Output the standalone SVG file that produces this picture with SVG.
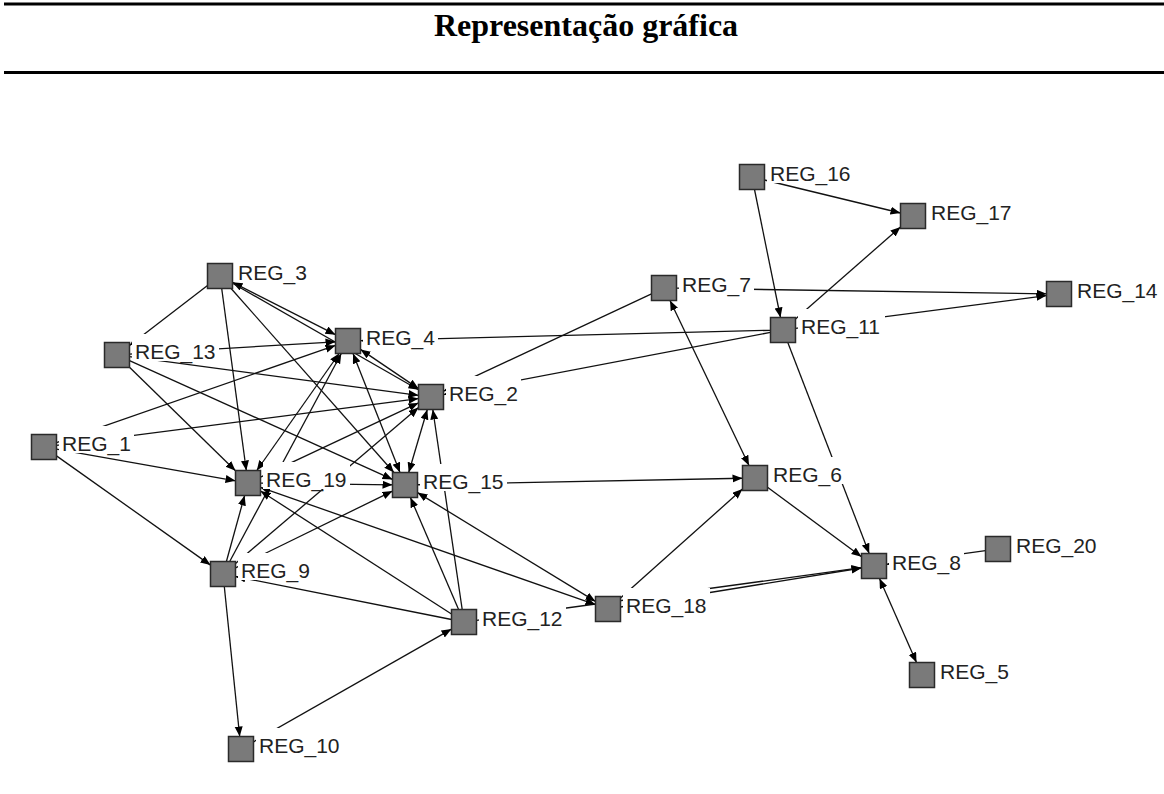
<svg xmlns="http://www.w3.org/2000/svg" width="1164" height="794" viewBox="0 0 1164 794">
<style>
.rule{stroke:#000;stroke-width:3}
.title{font-family:"Liberation Serif","Times New Roman",serif;font-weight:bold;font-size:32px;fill:#000}
#edges line{stroke:#111;stroke-width:1.3;fill:none}
#edges .e{marker-end:url(#ah)}
#edges .b{marker-end:url(#ah);marker-start:url(#ah)}
.node rect.box{fill:#7a7a7a;stroke:#2a2a2a;stroke-width:1.5}
.node rect.lb{fill:#fff}
.node text{font-family:"Liberation Sans",Arial,sans-serif;font-size:21px;fill:#222}
</style>
<defs>
<marker id="ah" markerUnits="userSpaceOnUse" markerWidth="11" markerHeight="9" refX="10" refY="4" orient="auto-start-reverse">
<path d="M0,0 L10,4 L0,8 z" fill="#000"/>
</marker>
</defs>
<rect x="0" y="0" width="1164" height="794" fill="#fff"/>
<line class="rule" x1="4" y1="4" x2="1164" y2="4"/>
<text class="title" x="586" y="36" text-anchor="middle">Representação gráfica</text>
<line class="rule" x1="4" y1="72.5" x2="1164" y2="72.5"/>
<g id="edges">
<line class="e" x1="56.5" y1="442.6" x2="335.5" y2="345.4"/>
<line class="e" x1="56.5" y1="445.4" x2="418.5" y2="398.6"/>
<line class="e" x1="56.5" y1="449.2" x2="235.5" y2="480.8"/>
<line class="e" x1="56.5" y1="455.9" x2="210.5" y2="565.1"/>
<line class="b" x1="232.5" y1="282.3" x2="335.5" y2="334.7"/>
<line class="e" x1="221.7" y1="288.5" x2="246.3" y2="470.5"/>
<line class="e" x1="231.1" y1="288.5" x2="393.9" y2="472.5"/>
<line class="e" x1="207.5" y1="285.6" x2="129.5" y2="345.4"/>
<line class="e" x1="232.5" y1="283.2" x2="418.5" y2="389.8"/>
<line class="e" x1="129.5" y1="354.2" x2="335.5" y2="341.8"/>
<line class="e" x1="129.5" y1="356.7" x2="418.5" y2="395.3"/>
<line class="e" x1="129.5" y1="360.6" x2="392.5" y2="479.4"/>
<line class="e" x1="129.5" y1="367.2" x2="235.5" y2="470.8"/>
<line class="b" x1="360.5" y1="349.4" x2="418.5" y2="388.6"/>
<line class="b" x1="339.2" y1="353.5" x2="256.8" y2="470.5"/>
<line class="b" x1="353" y1="353.5" x2="400" y2="472.5"/>
<line class="e" x1="770.5" y1="330.3" x2="360.5" y2="340.7"/>
<line class="e" x1="260.5" y1="477.1" x2="418.5" y2="402.9"/>
<line class="e" x1="235.5" y1="563.4" x2="418.5" y2="407.6"/>
<line class="e" x1="229.7" y1="561.5" x2="341.3" y2="353.5"/>
<line class="e" x1="226.4" y1="561.5" x2="244.6" y2="495.5"/>
<line class="e" x1="235.5" y1="567.9" x2="392.5" y2="491.1"/>
<line class="e" x1="451.5" y1="619.5" x2="235.5" y2="576.5"/>
<line class="e" x1="224.3" y1="586.5" x2="239.7" y2="736.5"/>
<line class="e" x1="253.5" y1="741.9" x2="451.5" y2="629.1"/>
<line class="e" x1="260.5" y1="483.2" x2="392.5" y2="484.8"/>
<line class="e" x1="451.5" y1="614" x2="260.5" y2="491"/>
<line class="e" x1="458.6" y1="609.5" x2="410.4" y2="497.5"/>
<line class="e" x1="462.2" y1="609.5" x2="432.8" y2="409.5"/>
<line class="e" x1="476.5" y1="620.3" x2="861.5" y2="567.7"/>
<line class="b" x1="260.5" y1="487.4" x2="595.5" y2="604.6"/>
<line class="b" x1="417.5" y1="492.6" x2="595.5" y2="601.4"/>
<line class="b" x1="427.3" y1="409.5" x2="408.7" y2="472.5"/>
<line class="e" x1="764.5" y1="180" x2="900.5" y2="213"/>
<line class="e" x1="754.5" y1="189.5" x2="780.5" y2="317.5"/>
<line class="e" x1="795.5" y1="319" x2="900.5" y2="227"/>
<line class="e" x1="676.5" y1="288.2" x2="1046.5" y2="293.8"/>
<line class="e" x1="795.5" y1="328.4" x2="1046.5" y2="295.6"/>
<line class="e" x1="787.8" y1="342.5" x2="869.2" y2="553.5"/>
<line class="b" x1="670" y1="300.5" x2="749" y2="465.5"/>
<line class="e" x1="417.5" y1="484.75" x2="742.5" y2="478.25"/>
<line class="e" x1="620.5" y1="597.9" x2="742.5" y2="489.1"/>
<line class="e" x1="767.5" y1="487.2" x2="861.5" y2="556.8"/>
<line class="e" x1="620.5" y1="607" x2="861.5" y2="568"/>
<line class="e" x1="985.5" y1="550.7" x2="886.5" y2="564.3"/>
<line class="b" x1="879.5" y1="578.5" x2="916.5" y2="662.5"/>
<line class="e" x1="651.5" y1="293.9" x2="443.5" y2="391.2"/>
<line class="e" x1="770.5" y1="332.4" x2="443.5" y2="394.6"/>
</g>
<g id="REG_1" class="node"><rect class="box" x="31.5" y="434.5" width="25" height="25"/><rect class="lb" x="59" y="426" width="75" height="27"/><text x="62" y="451">REG_1</text></g>
<g id="REG_2" class="node"><rect class="box" x="418.5" y="384.5" width="25" height="25"/><rect class="lb" x="446" y="376" width="75" height="27"/><text x="449" y="401">REG_2</text></g>
<g id="REG_3" class="node"><rect class="box" x="207.5" y="263.5" width="25" height="25"/><rect class="lb" x="235" y="255" width="75" height="27"/><text x="238" y="280">REG_3</text></g>
<g id="REG_4" class="node"><rect class="box" x="335.5" y="328.5" width="25" height="25"/><rect class="lb" x="363" y="320" width="75" height="27"/><text x="366" y="345">REG_4</text></g>
<g id="REG_5" class="node"><rect class="box" x="909.5" y="662.5" width="25" height="25"/><rect class="lb" x="937" y="654" width="75" height="27"/><text x="940" y="679">REG_5</text></g>
<g id="REG_6" class="node"><rect class="box" x="742.5" y="465.5" width="25" height="25"/><rect class="lb" x="770" y="457" width="75" height="27"/><text x="773" y="482">REG_6</text></g>
<g id="REG_7" class="node"><rect class="box" x="651.5" y="275.5" width="25" height="25"/><rect class="lb" x="679" y="267" width="75" height="27"/><text x="682" y="292">REG_7</text></g>
<g id="REG_8" class="node"><rect class="box" x="861.5" y="553.5" width="25" height="25"/><rect class="lb" x="889" y="545" width="75" height="27"/><text x="892" y="570">REG_8</text></g>
<g id="REG_9" class="node"><rect class="box" x="210.5" y="561.5" width="25" height="25"/><rect class="lb" x="238" y="553" width="75" height="27"/><text x="241" y="578">REG_9</text></g>
<g id="REG_10" class="node"><rect class="box" x="228.5" y="736.5" width="25" height="25"/><rect class="lb" x="256" y="728" width="87" height="27"/><text x="259" y="753">REG_10</text></g>
<g id="REG_11" class="node"><rect class="box" x="770.5" y="317.5" width="25" height="25"/><rect class="lb" x="798" y="309" width="87" height="27"/><text x="801" y="334">REG_11</text></g>
<g id="REG_12" class="node"><rect class="box" x="451.5" y="609.5" width="25" height="25"/><rect class="lb" x="479" y="601" width="87" height="27"/><text x="482" y="626">REG_12</text></g>
<g id="REG_13" class="node"><rect class="box" x="104.5" y="342.5" width="25" height="25"/><rect class="lb" x="132" y="334" width="87" height="27"/><text x="135" y="359">REG_13</text></g>
<g id="REG_14" class="node"><rect class="box" x="1046.5" y="281.5" width="25" height="25"/><rect class="lb" x="1074" y="273" width="87" height="27"/><text x="1077" y="298">REG_14</text></g>
<g id="REG_15" class="node"><rect class="box" x="392.5" y="472.5" width="25" height="25"/><rect class="lb" x="420" y="464" width="87" height="27"/><text x="423" y="489">REG_15</text></g>
<g id="REG_16" class="node"><rect class="box" x="739.5" y="164.5" width="25" height="25"/><rect class="lb" x="767" y="156" width="87" height="27"/><text x="770" y="181">REG_16</text></g>
<g id="REG_17" class="node"><rect class="box" x="900.5" y="203.5" width="25" height="25"/><rect class="lb" x="928" y="195" width="87" height="27"/><text x="931" y="220">REG_17</text></g>
<g id="REG_18" class="node"><rect class="box" x="595.5" y="596.5" width="25" height="25"/><rect class="lb" x="623" y="588" width="87" height="27"/><text x="626" y="613">REG_18</text></g>
<g id="REG_19" class="node"><rect class="box" x="235.5" y="470.5" width="25" height="25"/><rect class="lb" x="263" y="462" width="87" height="27"/><text x="266" y="487">REG_19</text></g>
<g id="REG_20" class="node"><rect class="box" x="985.5" y="536.5" width="25" height="25"/><rect class="lb" x="1013" y="528" width="87" height="27"/><text x="1016" y="553">REG_20</text></g>
</svg>
